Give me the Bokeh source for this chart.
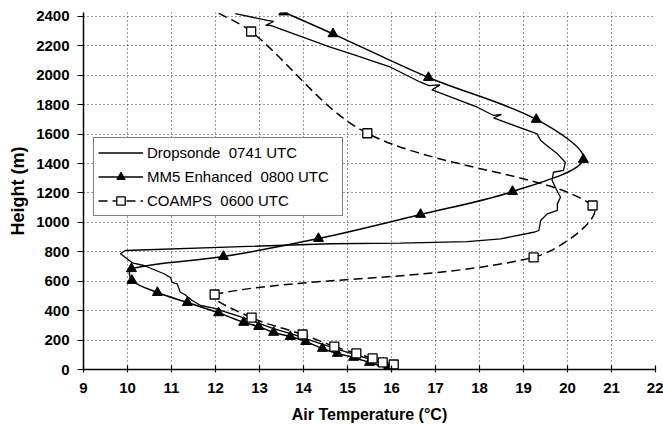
from bokeh.plotting import figure
from bokeh.models import Range1d, FixedTicker, Legend, LegendItem, ColumnDataSource
from bokeh.embed import file_html
from bokeh.resources import INLINE

# ---------------- data ----------------
drop_temp = [12.45, 13.18, 13.32, 13.14, 13.25, 14.61, 15.07, 15.98, 16.66, 16.85, 17.10, 16.92,
             17.95, 18.32, 18.50, 18.32, 19.31, 19.39, 19.50, 19.77, 19.95, 19.91, 19.68, 19.65,
             19.76, 19.84, 19.77, 19.77, 19.54, 19.39, 19.35, 19.23, 18.48, 17.72, 16.20, 14.61,
             9.95, 9.84, 10.11, 10.37, 10.83, 10.98, 11.01, 11.13, 11.20, 11.30, 11.47, 11.66,
             11.96, 12.40, 12.80, 13.30, 13.80, 14.30, 14.80, 15.30, 15.70, 16.00, 16.10]
drop_height = [2420, 2373, 2366, 2339, 2339, 2191, 2148, 2055, 1953, 1930, 1935, 1901,
               1783, 1727, 1735, 1710, 1602, 1557, 1530, 1466, 1409, 1353, 1341, 1285,
               1217, 1171, 1126, 1081, 1058, 1013, 945, 933, 888, 870, 859, 855,
               809, 787, 725, 707, 651, 625, 593, 582, 525, 510, 469, 435,
               418, 375, 335, 280, 235, 185, 135, 90, 50, 20, 5]

mm5_temp = [15.91, 15.50, 15.14, 14.77, 14.43, 14.05, 13.70, 13.32, 12.98, 12.64, 12.07,
            11.36, 10.68, 10.10, 10.09, 12.18, 14.34, 16.66, 18.75, 20.36, 19.29, 16.84,
            14.67, 13.55]
mm5_height = [10, 48, 82, 109, 143, 190, 224, 252, 292, 320, 385,
              455, 523, 605, 685, 768, 890, 1054, 1210, 1428, 1700, 1985,
              2282, 2430]

coamps_temp = [16.05, 15.80, 15.57, 15.20, 14.70, 13.98, 12.82, 11.98, 19.23, 20.57, 15.45,
               12.81, 12.05]
coamps_height = [34, 48, 75, 109, 156, 238, 353, 510, 762, 1115, 1606, 2298, 2425]

x_ticks = list(range(9, 23))
y_ticks = list(range(0, 2401, 200))

labels = ["Dropsonde\u00a0 0741 UTC", "MM5 Enhanced\u00a0 0800 UTC", "COAMPS\u00a0 0600 UTC"]

FONT = "Liberation Sans"
W, H = 663, 425
BL, BR, BT, BB = 83, 8, 12, 56
X0, X1 = 9, 22
Y0, Y1 = 0, 2427
SX = (W - BL - BR) / (X1 - X0)      # px per degree (for curve shaping)
SY = (H - BT - BB) / (Y1 - Y0)      # px per metre


def smooth(xs, ys):
    """Smoothed-line style: cubic Bezier pieces through the data points,
    tangents scaled by on-screen segment lengths."""
    pts = list(zip(xs, ys))
    n = len(pts)

    def d(a, b):
        return (((b[0] - a[0]) * SX) ** 2 + ((b[1] - a[1]) * SY) ** 2) ** 0.5 + 1e-9

    out = dict(x0=[], y0=[], x1=[], y1=[], cx0=[], cy0=[], cx1=[], cy1=[])
    for i in range(n - 1):
        p0 = pts[i - 1] if i > 0 else pts[i]
        p1 = pts[i]
        p2 = pts[i + 1]
        p3 = pts[i + 2] if i + 2 < n else pts[i + 1]
        d01, d12, d23 = d(p0, p1), d(p1, p2), d(p2, p3)
        k1 = d12 / (3.0 * (d01 + d12)) if i > 0 else 1.0 / 6.0
        k2 = d12 / (3.0 * (d12 + d23)) if i + 2 < n else 1.0 / 6.0
        out["x0"].append(p1[0]); out["y0"].append(p1[1])
        out["x1"].append(p2[0]); out["y1"].append(p2[1])
        out["cx0"].append(p1[0] + (p2[0] - p0[0]) * k1)
        out["cy0"].append(p1[1] + (p2[1] - p0[1]) * k1)
        out["cx1"].append(p2[0] - (p3[0] - p1[0]) * k2)
        out["cy1"].append(p2[1] - (p3[1] - p1[1]) * k2)
    return ColumnDataSource(out)


p = figure(width=W, height=H,
           x_range=Range1d(X0, X1), y_range=Range1d(Y0, Y1),
           output_backend="svg", toolbar_location=None,
           min_border_left=BL, min_border_right=BR,
           min_border_top=BT, min_border_bottom=BB,
           background_fill_color="white", border_fill_color="white")
p.outline_line_color = None

# axes
p.xaxis.ticker = FixedTicker(ticks=x_ticks)
p.yaxis.ticker = FixedTicker(ticks=y_ticks)
p.xaxis.axis_label = "Air Temperature (°C)"
p.yaxis.axis_label = "Height (m)"
for ax in (p.xaxis[0], p.yaxis[0]):
    ax.axis_line_color = "black"
    ax.axis_line_width = 1.5
    ax.major_tick_line_color = "black"
    ax.major_tick_line_width = 1.2
    ax.minor_tick_line_color = None
    ax.major_label_text_font = FONT
    ax.major_label_text_font_style = "bold"
    ax.major_label_text_font_size = "15px"
    ax.major_label_text_color = "black"
    ax.axis_label_text_font = FONT
    ax.axis_label_text_font_style = "bold"
    ax.axis_label_text_color = "black"
p.xaxis.major_tick_in = 4
p.xaxis.major_tick_out = 3
p.xaxis.major_label_standoff = 10
p.xaxis.axis_label_text_font_size = "16px"
p.xaxis.axis_label_text_line_height = 0.9
p.xaxis.axis_label_standoff = 10
p.yaxis.major_tick_in = 0
p.yaxis.major_tick_out = 6
p.yaxis.major_label_standoff = 8
p.yaxis.axis_label_text_font_size = "18px"
p.yaxis.axis_label_standoff = 5

# grid
for g in (p.xgrid[0], p.ygrid[0]):
    g.grid_line_color = "black"
    g.grid_line_dash = "1 3"
    g.grid_line_width = 1
    g.grid_line_alpha = 0.8

# series
drop_r = p.line(drop_temp, drop_height, line_color="black", line_width=1.3)

mm5_src = smooth(mm5_temp, mm5_height)
mm5_line = p.bezier(x0="x0", y0="y0", x1="x1", y1="y1", cx0="cx0", cy0="cy0",
                    cx1="cx1", cy1="cy1", source=mm5_src, line_color="black", line_width=1.5)
mm5_pts = p.scatter(mm5_temp, mm5_height, marker="triangle", size=10,
                    fill_color="black", line_color="black")

co_src = smooth(coamps_temp, coamps_height)
co_line = p.bezier(x0="x0", y0="y0", x1="x1", y1="y1", cx0="cx0", cy0="cy0",
                   cx1="cx1", cy1="cy1", source=co_src, line_color="black", line_width=1.5,
                   line_dash="9 5")
co_pts = p.scatter(coamps_temp[:-1], coamps_height[:-1], marker="square", size=9,
                   fill_color="white", line_color="black", line_width=1.3)

legend = Legend(items=[LegendItem(label=labels[0], renderers=[drop_r]),
                       LegendItem(label=labels[1], renderers=[mm5_line, mm5_pts]),
                       LegendItem(label=labels[2], renderers=[co_line, co_pts])],
                location=(10, 153), margin=0, padding=4, spacing=3,
                glyph_width=45, glyph_height=21, label_height=21, label_width=191,
                label_standoff=4,
                label_text_font=FONT, label_text_font_size="15px", label_text_color="black",
                border_line_color="black", border_line_width=1.5,
                background_fill_color="white", background_fill_alpha=1.0)
p.add_layout(legend)

open("out.html", "w").write(file_html(p, INLINE))
